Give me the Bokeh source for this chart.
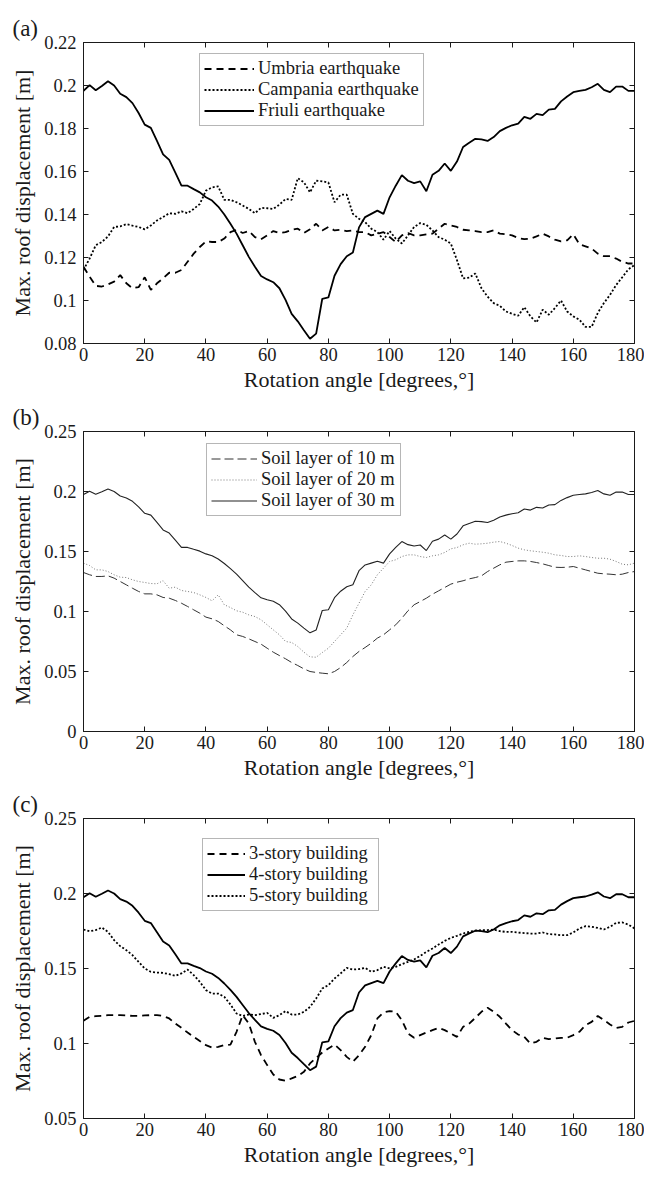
from bokeh.plotting import figure
from bokeh.models import Range1d, LinearAxis, FixedTicker, Legend, LegendItem
from bokeh.layouts import column
from bokeh.embed import file_html
from bokeh.resources import INLINE

# ---------------- data ----------------
angles = [0, 2, 4, 6, 8, 10, 12, 14, 16, 18, 20, 22, 24, 26, 28, 30, 32, 34, 36, 38,
          40, 42, 44, 46, 48, 50, 52, 54, 56, 58, 60, 62, 64, 66, 68, 70, 72, 74, 76, 78,
          80, 82, 84, 86, 88, 90, 92, 94, 96, 98, 100, 102, 104, 106, 108, 110, 112, 114,
          116, 118, 120, 122, 124, 126, 128, 130, 132, 134, 136, 138, 140, 142, 144, 146,
          148, 150, 152, 154, 156, 158, 160, 162, 164, 166, 168, 170, 172, 174, 176, 178, 180]

# Friuli earthquake / 30 m soil layer / 4-story building (reference case)
friuli = [0.1975, 0.2002, 0.1978, 0.1998, 0.2020, 0.2000, 0.1962, 0.1946, 0.1918, 0.1872,
          0.1818, 0.1803, 0.1742, 0.1680, 0.1654, 0.1595, 0.1534, 0.1534, 0.1518, 0.1503,
          0.1480, 0.1465, 0.1437, 0.1400, 0.1357, 0.1311, 0.1257, 0.1203, 0.1157, 0.1114,
          0.1098, 0.1085, 0.1057, 0.1003, 0.0938, 0.0903, 0.0862, 0.0822, 0.0846, 0.1008,
          0.1014, 0.1115, 0.1169, 0.1206, 0.1223, 0.1340, 0.1388, 0.1403, 0.1418, 0.1403,
          0.1480, 0.1534, 0.1583, 0.1557, 0.1546, 0.1554, 0.1508, 0.1585, 0.1603, 0.1637,
          0.1603, 0.1646, 0.1714, 0.1734, 0.1752, 0.1749, 0.1742, 0.1760, 0.1788, 0.1803,
          0.1815, 0.1823, 0.1854, 0.1845, 0.1868, 0.1862, 0.1888, 0.1891, 0.1926, 0.1949,
          0.1969, 0.1975, 0.1980, 0.1992, 0.2008, 0.1980, 0.1969, 0.1995, 0.1995, 0.1975, 0.1975]

umbria = [0.1157, 0.1111, 0.1068, 0.1065, 0.1075, 0.1088, 0.1118, 0.1080, 0.1057, 0.1062,
          0.1108, 0.1049, 0.1080, 0.1103, 0.1129, 0.1129, 0.1142, 0.1180, 0.1218, 0.1249,
          0.1275, 0.1272, 0.1272, 0.1288, 0.1318, 0.1329, 0.1314, 0.1323, 0.1295, 0.1285,
          0.1303, 0.1323, 0.1314, 0.1318, 0.1329, 0.1334, 0.1314, 0.1331, 0.1357, 0.1326,
          0.1342, 0.1326, 0.1329, 0.1323, 0.1326, 0.1318, 0.1318, 0.1303, 0.1311, 0.1318,
          0.1295, 0.1272, 0.1303, 0.1314, 0.1303, 0.1303, 0.1308, 0.1311, 0.1334, 0.1357,
          0.1349, 0.1342, 0.1329, 0.1326, 0.1323, 0.1318, 0.1318, 0.1326, 0.1311, 0.1308,
          0.1303, 0.1291, 0.1285, 0.1288, 0.1298, 0.1311, 0.1298, 0.1283, 0.1275, 0.1280,
          0.1308, 0.1262, 0.1252, 0.1242, 0.1218, 0.1206, 0.1206, 0.1195, 0.1180, 0.1172, 0.1172]

campania = [0.1142, 0.1195, 0.1257, 0.1272, 0.1298, 0.1342, 0.1345, 0.1355, 0.1348, 0.1342,
            0.1331, 0.1349, 0.1372, 0.1388, 0.1406, 0.1403, 0.1415, 0.1406, 0.1426, 0.1449,
            0.1511, 0.1526, 0.1531, 0.1468, 0.1468, 0.1457, 0.1442, 0.1426, 0.1406, 0.1431,
            0.1429, 0.1426, 0.1446, 0.1472, 0.1468, 0.1569, 0.1550, 0.1503, 0.1557, 0.1554,
            0.1549, 0.1457, 0.1492, 0.1492, 0.1403, 0.1380, 0.1365, 0.1334, 0.1318, 0.1283,
            0.1323, 0.1288, 0.1265, 0.1303, 0.1342, 0.1360, 0.1352, 0.1326, 0.1295, 0.1283,
            0.1265, 0.1188, 0.1103, 0.1106, 0.1126, 0.1057, 0.1018, 0.0988, 0.0975, 0.0949,
            0.0938, 0.0929, 0.0969, 0.0926, 0.0898, 0.0957, 0.0934, 0.0965, 0.1000, 0.0949,
            0.0926, 0.0911, 0.0877, 0.0877, 0.0942, 0.0988, 0.1026, 0.1072, 0.1108, 0.1145, 0.1165]

soil10 = [0.1325, 0.1306, 0.1292, 0.1292, 0.1297, 0.1278, 0.1250, 0.1222, 0.1194, 0.1167,
          0.1147, 0.1147, 0.1139, 0.1117, 0.1111, 0.1092, 0.1069, 0.1042, 0.1014, 0.0986,
          0.0953, 0.0939, 0.0917, 0.0881, 0.0847, 0.0806, 0.0792, 0.0772, 0.0750, 0.0728,
          0.0694, 0.0661, 0.0633, 0.0606, 0.0575, 0.0550, 0.0522, 0.0500, 0.0492, 0.0486,
          0.0481, 0.0500, 0.0533, 0.0575, 0.0625, 0.0667, 0.0700, 0.0736, 0.0778, 0.0806,
          0.0847, 0.0889, 0.0944, 0.1006, 0.1056, 0.1083, 0.1111, 0.1144, 0.1172, 0.1200,
          0.1228, 0.1244, 0.1256, 0.1272, 0.1283, 0.1297, 0.1333, 0.1361, 0.1389, 0.1411,
          0.1417, 0.1422, 0.1422, 0.1417, 0.1408, 0.1397, 0.1383, 0.1369, 0.1367, 0.1369,
          0.1375, 0.1361, 0.1347, 0.1333, 0.1319, 0.1314, 0.1311, 0.1306, 0.1311, 0.1325, 0.1333]

soil20 = [0.1403, 0.1383, 0.1347, 0.1347, 0.1333, 0.1306, 0.1286, 0.1283, 0.1264, 0.1250,
          0.1242, 0.1233, 0.1231, 0.1256, 0.1194, 0.1203, 0.1175, 0.1167, 0.1158, 0.1139,
          0.1117, 0.1089, 0.1139, 0.1056, 0.1033, 0.1006, 0.0994, 0.0972, 0.0958, 0.0931,
          0.0889, 0.0847, 0.0806, 0.0750, 0.0742, 0.0708, 0.0661, 0.0622, 0.0619, 0.0658,
          0.0694, 0.0750, 0.0806, 0.0861, 0.0972, 0.1069, 0.1167, 0.1222, 0.1306, 0.1361,
          0.1417, 0.1431, 0.1458, 0.1472, 0.1472, 0.1458, 0.1450, 0.1464, 0.1472, 0.1492,
          0.1522, 0.1533, 0.1556, 0.1569, 0.1561, 0.1564, 0.1569, 0.1578, 0.1583, 0.1569,
          0.1550, 0.1528, 0.1514, 0.1506, 0.1500, 0.1494, 0.1486, 0.1472, 0.1467, 0.1458,
          0.1458, 0.1464, 0.1458, 0.1450, 0.1444, 0.1444, 0.1436, 0.1417, 0.1394, 0.1389, 0.1403]

story3 = [0.1151, 0.1178, 0.1182, 0.1184, 0.1189, 0.1189, 0.1189, 0.1187, 0.1184, 0.1184,
          0.1187, 0.1189, 0.1189, 0.1184, 0.1167, 0.1133, 0.1104, 0.1073, 0.1044, 0.1016,
          0.0989, 0.0973, 0.0978, 0.0989, 0.0993, 0.1078, 0.1189, 0.1133, 0.1011, 0.0922,
          0.0856, 0.0793, 0.0760, 0.0751, 0.0767, 0.0784, 0.0811, 0.0867, 0.0904, 0.0940,
          0.0967, 0.0993, 0.0956, 0.0911, 0.0878, 0.0922, 0.0978, 0.1056, 0.1167, 0.1207,
          0.1216, 0.1211, 0.1156, 0.1067, 0.1038, 0.1056, 0.1073, 0.1089, 0.1104, 0.1089,
          0.1067, 0.1044, 0.1111, 0.1133, 0.1171, 0.1211, 0.1238, 0.1211, 0.1178, 0.1133,
          0.1089, 0.1060, 0.1044, 0.1000, 0.1011, 0.1038, 0.1029, 0.1033, 0.1038, 0.1038,
          0.1056, 0.1078, 0.1122, 0.1144, 0.1184, 0.1156, 0.1127, 0.1104, 0.1111, 0.1140, 0.1151]

story5 = [0.1760, 0.1749, 0.1756, 0.1773, 0.1744, 0.1689, 0.1649, 0.1622, 0.1589, 0.1544,
          0.1500, 0.1478, 0.1473, 0.1471, 0.1462, 0.1451, 0.1467, 0.1493, 0.1456, 0.1411,
          0.1356, 0.1333, 0.1333, 0.1311, 0.1260, 0.1200, 0.1184, 0.1193, 0.1189, 0.1196,
          0.1204, 0.1171, 0.1189, 0.1216, 0.1193, 0.1193, 0.1211, 0.1244, 0.1300, 0.1367,
          0.1389, 0.1433, 0.1467, 0.1504, 0.1493, 0.1496, 0.1504, 0.1478, 0.1489, 0.1511,
          0.1500, 0.1511, 0.1529, 0.1544, 0.1560, 0.1584, 0.1611, 0.1633, 0.1660, 0.1684,
          0.1704, 0.1718, 0.1733, 0.1744, 0.1753, 0.1756, 0.1756, 0.1760, 0.1749, 0.1744,
          0.1744, 0.1740, 0.1736, 0.1733, 0.1733, 0.1740, 0.1729, 0.1727, 0.1722, 0.1722,
          0.1740, 0.1767, 0.1782, 0.1778, 0.1771, 0.1760, 0.1778, 0.1804, 0.1807, 0.1793, 0.1767]

x_ticks = [0, 20, 40, 60, 80, 100, 120, 140, 160, 180]
a_yticks = [0.08, 0.1, 0.12, 0.14, 0.16, 0.18, 0.2, 0.22]
a_ylabels = ["0.08", "0.1", "0.12", "0.14", "0.16", "0.18", "0.2", "0.22"]
b_yticks = [0, 0.05, 0.1, 0.15, 0.2, 0.25]
b_ylabels = ["0", "0.05", "0.1", "0.15", "0.2", "0.25"]
c_yticks = [0.05, 0.1, 0.15, 0.2, 0.25]
c_ylabels = ["0.05", "0.1", "0.15", "0.2", "0.25"]

a_names = ["Umbria earthquake", "Campania earthquake", "Friuli earthquake"]
b_names = ["Soil layer of 10 m", "Soil layer of 20 m", "Soil layer of 30 m"]
c_names = ["3-story building", "4-story building", "5-story building"]

x_title = "Rotation angle [degrees,°]"
y_title = "Max. roof displacement [m]"

# ---------------- styling ----------------
FONT = "Liberation Serif"
INK = "#1a1a1a"


def make_panel(tag, yr, yticks, ylabels, series, leg_loc, glyph_w, label_w,
               top_b, bot_b, fh, tag_standoff):
    p = figure(frame_width=551, frame_height=fh, x_range=Range1d(0, 180),
               y_range=Range1d(*yr), output_backend="svg", toolbar_location=None,
               min_border_left=83, min_border_right=10, min_border_top=top_b,
               min_border_bottom=bot_b, background_fill_color="white",
               border_fill_color="white", title=tag)
    p.title.align = "left"
    p.title.vertical_align = "top"
    p.title.offset = -71
    p.title.standoff = tag_standoff
    p.title.text_font = FONT
    p.title.text_font_size = "23px"
    p.title.text_font_style = "normal"
    p.title.text_color = INK

    p.xgrid.visible = False
    p.ygrid.visible = False
    p.outline_line_color = INK
    p.outline_line_width = 1

    overrides = {t: s for t, s in zip(yticks, ylabels)}
    for ax in (p.xaxis[0], p.yaxis[0]):
        ax.major_tick_in = 5
        ax.major_tick_out = 0
        ax.minor_tick_in = 0
        ax.minor_tick_out = 0
        ax.axis_line_color = INK
        ax.major_tick_line_color = INK
        ax.major_label_text_font = FONT
        ax.major_label_text_font_size = "18.5px"
        ax.major_label_text_color = INK
        ax.axis_label_text_font = FONT
        ax.axis_label_text_font_size = "22px"
        ax.axis_label_text_font_style = "normal"
        ax.axis_label_text_color = INK
    p.xaxis[0].ticker = FixedTicker(ticks=x_ticks)
    p.yaxis[0].ticker = FixedTicker(ticks=yticks)
    p.yaxis[0].major_label_overrides = overrides
    p.xaxis[0].axis_label = x_title
    p.yaxis[0].axis_label = y_title
    p.xaxis[0].major_label_standoff = 4
    p.yaxis[0].major_label_standoff = 7
    p.xaxis[0].axis_label_standoff = 3
    p.yaxis[0].axis_label_standoff = 6

    # mirrored ticks on top and right (no labels)
    for loc, tk in (("above", x_ticks), ("right", yticks)):
        ax = LinearAxis(ticker=FixedTicker(ticks=tk), major_tick_in=5, major_tick_out=0,
                        minor_tick_in=0, minor_tick_out=0, axis_line_color=None,
                        major_tick_line_color=INK, major_label_standoff=0,
                        major_label_text_font_size="1px",
                        major_label_overrides={t: "" for t in tk})
        p.add_layout(ax, loc)

    items = []
    for name, ys, color, width, dash in series:
        r = p.line(angles, ys, line_color=color, line_width=width, line_dash=dash)
        items.append(LegendItem(label=name, renderers=[r]))
    leg = Legend(items=items, location=leg_loc, border_line_color="#6e6e6e",
                 border_line_width=1, background_fill_color="white", background_fill_alpha=1,
                 label_text_font=FONT, label_text_font_size="18.5px", label_text_color=INK,
                 glyph_width=glyph_w, glyph_height=21, label_height=21, label_width=label_w,
                 label_standoff=4, padding=4, spacing=0, margin=0)
    p.add_layout(leg)
    return p


pa = make_panel("(a)", (0.08, 0.22), a_yticks, a_ylabels,
                [(a_names[0], umbria, "black", 1.8, "7 5"),
                 (a_names[1], campania, "black", 1.8, "2 2"),
                 (a_names[2], friuli, "black", 1.8, "solid")],
                (116, 217), 50, 160, 42, 53, 301, 0)

pb = make_panel("(b)", (0, 0.25), b_yticks, b_ylabels,
                [(b_names[0], soil10, "#333333", 1.0, "9 4"),
                 (b_names[1], soil20, "#777777", 1.0, "1 2"),
                 (b_names[2], friuli, "#222222", 1.1, "solid")],
                (123, 215), 46, 135, 35, 52, 300, 0)

pc = make_panel("(c)", (0.05, 0.25), c_yticks, c_ylabels,
                [(c_names[0], story3, "black", 1.8, "7 5"),
                 (c_names[1], friuli, "black", 1.8, "solid"),
                 (c_names[2], story5, "black", 1.8, "2 2")],
                (119, 207), 38, 125, 35, 54, 300, 0)

layout = column(pa, pb, pc)
open("out.html", "w").write(file_html(layout, INLINE))
